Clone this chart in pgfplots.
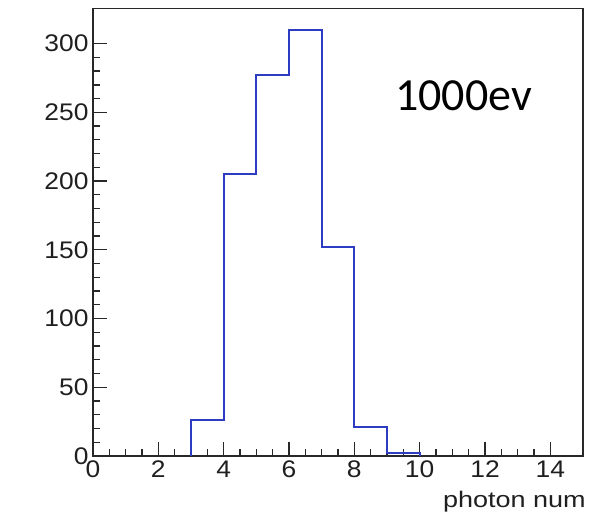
\documentclass[border=0pt]{standalone}
\usepackage{fontspec}
\usepackage{pgfplots}
\pgfplotsset{compat=1.18}
\setmainfont{Liberation Sans}
\newfontfamily\rootfont[FakeStretch=1.1]{Liberation Sans}
\newfontfamily\labfont[FakeStretch=1.2]{Liberation Sans}
\newfontfamily\calfont{Carlito}
\definecolor{histblue}{RGB}{45,60,195}
\definecolor{axgray}{RGB}{40,40,40}
\begin{document}
\begin{tikzpicture}
\begin{axis}[
  at={(0pt,0pt)}, anchor=south west,
  scale only axis,
  width=490pt, height=447.5pt,
  xmin=0, xmax=15, ymin=0, ymax=325.5,
  xtick={0,2,...,14}, ytick={0,50,...,300},
  minor x tick num=3, minor y tick num=4,
  xtick pos=left, ytick pos=left,
  tick align=inside,
  major tick length=14pt, minor tick length=7pt,
  axis line style={axgray, line width=1.5pt},
  every tick/.style={axgray, line width=1.4pt},
  /pgf/number format/assume math mode=true,
  tick label style={font=\rootfont\fontsize{24}{24}\selectfont, text=black!88},
  xticklabel style={yshift=-1pt},
  yticklabel style={xshift=-1pt},
  clip=false,
]
\addplot[const plot mark left, histblue, line width=2pt] coordinates {
  (3,0) (3,26) (4,205) (5,277) (6,310) (7,152) (8,21) (9,2) (10,0)
};
\node[anchor=base west, inner sep=0pt, font=\calfont\fontsize{46}{46}\selectfont] at (rel axis cs:0.616,0.773) {1000ev};
\node[anchor=base east, inner sep=0pt, font=\labfont\fontsize{22.5}{22.5}\selectfont, text=black!88] at (rel axis cs:1.006,-0.115) {photon num};
\end{axis}
\pgfresetboundingbox
\path (-93pt,-59pt) rectangle (498pt,456pt);
\end{tikzpicture}
\end{document}
